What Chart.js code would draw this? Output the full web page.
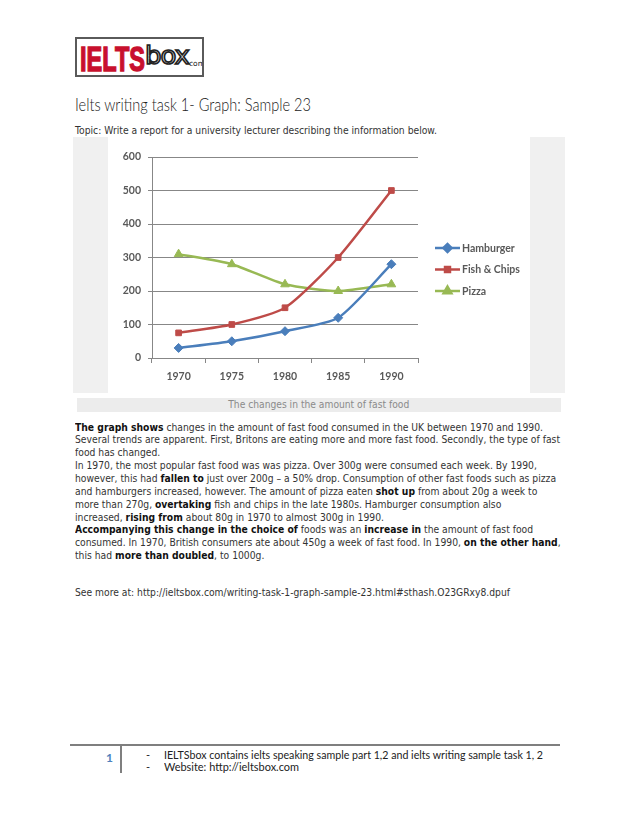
<!DOCTYPE html>
<html>
<head>
<meta charset="utf-8">
<script src="https://cdn.jsdelivr.net/npm/chart.js@4.4.1/dist/chart.umd.min.js"></script>
<style>
  html, body { margin:0; padding:0; background:#fff; }
  body { width:638px; height:826px; position:relative; overflow:hidden; }
  .abs { position:absolute; white-space:nowrap; line-height:1; }
  .body { font-family:'DejaVu Sans', sans-serif; font-size:10px; color:#333; }
  .body b { color:#111; }
  #logo { position:absolute; left:75px; top:37px; width:129px; height:40px; box-sizing:border-box; border:2px solid #5a5a5a; background:#fff; overflow:hidden; }
  #ielts { position:absolute; left:3px; top:2px; font-family:'Liberation Sans', Arial, sans-serif; font-weight:bold; font-size:35px; color:#C8102E; -webkit-text-stroke:1.4px #C8102E; line-height:1; white-space:nowrap; }
  #boxw { position:absolute; left:68px; top:4px; font-family:'DejaVu Sans', sans-serif; font-size:25px; color:#fff; -webkit-text-stroke:1.6px #222; line-height:1; letter-spacing:-1px; white-space:nowrap; }
  #com { position:absolute; left:112px; top:21px; font-family:'DejaVu Sans', sans-serif; font-size:7.5px; color:#222; line-height:1; }
  #panel { position:absolute; left:73px; top:137px; width:492px; height:256px; background:#f0f0f0; }
  #white { position:absolute; left:108px; top:137px; width:422px; height:256px; background:#fff; }
  #chartbox { position:absolute; left:108px; top:137px; width:422px; height:256px; }
  #capbar { position:absolute; left:77px; top:398px; width:484px; height:14px; background:#ececec; }
  #cap { position:absolute; left:77px; top:398px; width:484px; height:14px; text-align:center; font-family:'DejaVu Sans', sans-serif; font-size:10px; line-height:14px; color:#8a8a8a; }
  #para { position:absolute; left:75px; top:421.5px; line-height:12.86px; white-space:nowrap; }
  #para div { height:12.86px; }
  .foot { font-family:'Lato', sans-serif; font-size:11px; color:#222; }
</style>
</head>
<body>
<div id="logo"><div id="ielts">IELTS</div><div id="boxw">box</div><div id="com">com</div></div>

<div id="title" class="abs" style="left:75px; top:95px; font-family:'Lato',sans-serif; font-size:18px; font-weight:300; color:#222;">Ielts writing task 1- Graph: Sample 23</div>
<div id="topic" class="abs body" style="left:75px; top:126px;">Topic: Write a report for a university lecturer describing the information below.</div>

<div id="panel"></div>
<div id="white"></div>
<div id="chartbox"><canvas id="c"></canvas></div>
<div id="capbar"></div>
<div id="cap"><span id="capt">The changes in the amount of fast food</span></div>

<div id="para" class="body">
<div><b>The graph shows</b> changes in the amount of fast food consumed in the UK between 1970 and 1990.</div>
<div id="refline">Several trends are apparent. First, Britons are eating more and more fast food. Secondly, the type of fast</div>
<div>food has changed.</div>
<div>In 1970, the most popular fast food was was pizza. Over 300g were consumed each week. By 1990,</div>
<div>however, this had <b>fallen to</b> just over 200g – a 50% drop. Consumption of other fast foods such as pizza</div>
<div>and hamburgers increased, however. The amount of pizza eaten <b>shot up</b> from about 20g a week to</div>
<div>more than 270g, <b>overtaking</b> fish and chips in the late 1980s. Hamburger consumption also</div>
<div>increased, <b>rising from</b> about 80g in 1970 to almost 300g in 1990.</div>
<div><b>Accompanying this change in the choice of</b> foods was an <b>increase in</b> the amount of fast food</div>
<div>consumed. In 1970, British consumers ate about 450g a week of fast food. In 1990, <b>on the other hand</b>,</div>
<div>this had <b>more than doubled</b>, to 1000g.</div>
</div>
<div id="seemore" class="abs body" style="left:75px; top:588px;">See more at: http://ieltsbox.com/writing-task-1-graph-sample-23.html#sthash.O23GRxy8.dpuf</div>

<div style="position:absolute; left:70px; top:744px; width:490px; height:2px; background:#7f7f7f;"></div>
<div style="position:absolute; left:120px; top:745px; width:2px; height:28px; background:#7f7f7f;"></div>
<div class="abs" style="left:106px; top:752px; font-family:'Lato',sans-serif; font-weight:bold; font-size:12px; color:#4F81BD;">1</div>
<div class="abs foot" style="left:146px; top:749px;">-</div>
<div class="abs foot" style="left:146px; top:761px;">-</div>
<div id="f1" class="abs foot" style="left:164px; top:749px;">IELTSbox contains ielts speaking sample part 1,2 and ielts writing sample task 1, 2</div>
<div id="f2" class="abs foot" style="left:164px; top:761px;">Website: http://ieltsbox.com</div>

<script>
// ---- data ----
const years = ['1970', '1975', '1980', '1985', '1990'];
const hamburger = [30, 50, 80, 120, 280];
const fishChips = [75, 100, 150, 300, 500];
const pizza = [310, 280, 220, 200, 220];
const seriesNames = ['Hamburger', 'Fish & Chips', 'Pizza'];
const yMax = 600;
const yStep = 100;

// ---- text fitting ----
function inlineWidth(el) {
  const r = document.createRange(); r.selectNodeContents(el);
  return r.getBoundingClientRect().width;
}
function fit(el, target) {
  const w = inlineWidth(el);
  if (w > 0) { el.style.transformOrigin = '0 0'; el.style.transform = 'scaleX(' + (target / w) + ')'; }
}
function doFit() {
  const ref = document.getElementById('refline');
  const para = document.getElementById('para');
  const rw = inlineWidth(ref);
  para.style.transformOrigin = '0 0';
  para.style.transform = 'scaleX(' + (485 / rw) + ')';
  fit(document.getElementById('title'), 236);
  fit(document.getElementById('topic'), 362);
  fit(document.getElementById('seemore'), 435);
  fit(document.getElementById('f1'), 379);
  fit(document.getElementById('f2'), 135);
  fit(document.getElementById('ielts'), 65);
  fit(document.getElementById('boxw'), 44);
  const cap = document.getElementById('capt');
  const cw = inlineWidth(cap);
  cap.style.display = 'inline-block';
  cap.style.transform = 'scaleX(' + (181 / cw) + ')';
}

// ---- chart ----
const colors = ['#4A7EBB', '#BE4B48', '#98B954'];
const styles = ['rectRot', 'rect', 'triangle'];
const radii = [4.5, 4, 5];
const allData = [hamburger, fishChips, pizza];

const legendPlugin = {
  id: 'sideLegend',
  afterDraw(chart) {
    const ctx = chart.ctx;
    const a = chart.chartArea;
    ctx.save();
    chart.data.datasets.forEach((ds, i) => {
      const y = a.top + 91 + i * 21.5;
      const x0 = a.right + 17, x1 = a.right + 42;
      ctx.strokeStyle = ds.borderColor;
      ctx.fillStyle = ds.backgroundColor;
      ctx.lineWidth = 2.5;
      ctx.beginPath(); ctx.moveTo(x0, y); ctx.lineTo(x1, y); ctx.stroke();
      Chart.helpers.drawPoint(ctx, { pointStyle: ds.pointStyle, radius: ds.pointRadius - 0.5, rotation: 0, borderWidth: 1 }, (x0 + x1) / 2, y);
      ctx.fillStyle = '#595959';
      ctx.font = 'bold 10.5px Lato';
      ctx.textBaseline = 'middle';
      ctx.textAlign = 'left';
      ctx.fillText(ds.label, a.right + 44, y + 0.5);
    });
    ctx.restore();
  }
};

function makeChart() {
  const tickFont = { family: 'Lato', weight: 'bold', size: 10.5 };
  new Chart(document.getElementById('c'), {
    type: 'line',
    data: {
      labels: years,
      datasets: allData.map((d, i) => ({
        label: seriesNames[i],
        data: d,
        borderColor: colors[i],
        backgroundColor: colors[i],
        pointStyle: styles[i],
        pointRadius: radii[i],
        pointHoverRadius: radii[i],
        pointBorderWidth: 1,
        borderWidth: 2.5,
        tension: 0.22,
        fill: false
      }))
    },
    options: {
      responsive: true,
      maintainAspectRatio: false,
      animation: false,
      layout: { padding: { top: 20, right: 112, bottom: 0, left: 0 } },
      plugins: { legend: { display: false }, tooltip: { enabled: false }, title: { display: false } },
      scales: {
        x: {
          offset: true,
          grid: { display: true, drawOnChartArea: false, offset: true, tickLength: 5, color: '#878787' },
          border: { display: true, color: '#878787', width: 1 },
          ticks: { color: '#595959', font: tickFont, padding: 7, maxRotation: 0 },
          afterFit(s) { s.height = 35; }
        },
        y: {
          min: 0, max: yMax,
          grid: { color: '#878787', tickLength: 4 },
          border: { display: true, color: '#878787', width: 1 },
          ticks: { stepSize: yStep, color: '#595959', font: tickFont, padding: 7 },
          afterFit(s) { s.width = 44; }
        }
      }
    },
    plugins: [legendPlugin]
  });
}

(document.fonts && document.fonts.ready ? document.fonts.ready : Promise.resolve()).then(() => {
  doFit();
  makeChart();
});
</script>
</body>
</html>
